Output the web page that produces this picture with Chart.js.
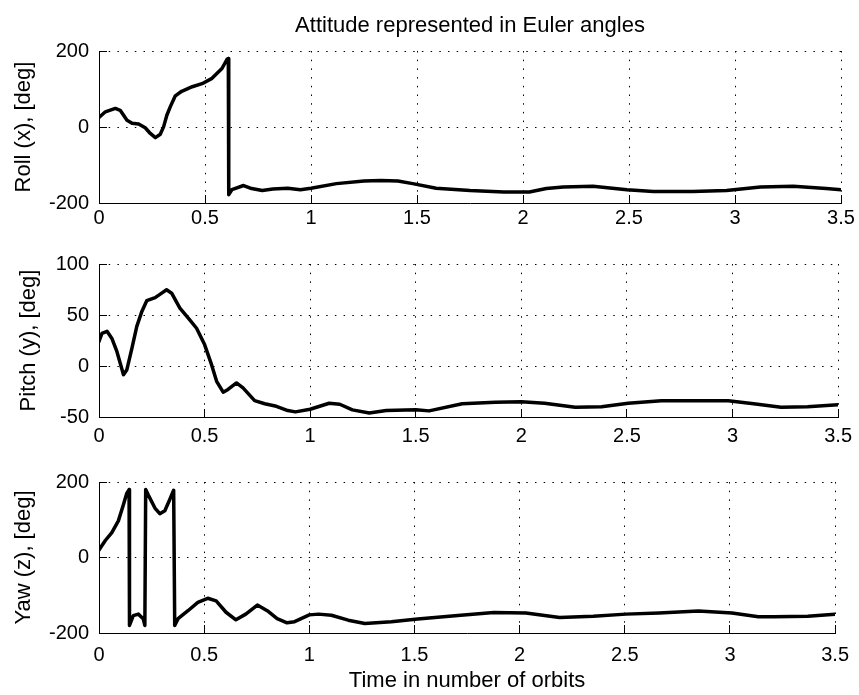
<!DOCTYPE html>
<html>
<head>
<meta charset="utf-8">
<title>Attitude represented in Euler angles</title>
<script src="https://cdn.jsdelivr.net/npm/chart.js@4.4.0/dist/chart.umd.min.js"></script>
<style>
  html, body { margin: 0; padding: 0; background: #fff; }
  #wrap { position: relative; width: 859px; height: 695px; overflow: hidden; }
  canvas { position: absolute; left: 0; }
</style>
</head>
<body>
<div id="wrap">
  <canvas id="roll" width="859" height="240" style="top:0px"></canvas>
  <canvas id="pitch" width="859" height="220" style="top:240px"></canvas>
  <canvas id="yaw" width="859" height="235" style="top:460px"></canvas>
</div>
<script>
// time axis (number of orbits)
const xTicks = [0, 0.5, 1, 1.5, 2, 2.5, 3, 3.5];
const xTickLabels = ['0', '0.5', '1', '1.5', '2', '2.5', '3', '3.5'];

// Roll (x)
const rollT = [0, 0.03, 0.077, 0.10, 0.132, 0.156, 0.187, 0.218, 0.242, 0.266, 0.289, 0.305, 0.32, 0.336,
  0.36, 0.39, 0.44, 0.486, 0.533, 0.58, 0.604, 0.610, 0.612, 0.627, 0.682, 0.72, 0.77, 0.82, 0.89, 0.95,
  1.0, 1.12, 1.25, 1.33, 1.41, 1.48, 1.59, 1.75, 1.91, 2.03, 2.11, 2.19, 2.33, 2.49, 2.615, 2.80, 2.96,
  3.12, 3.275, 3.43, 3.5];
const rollDeg = [25, 40, 49, 44, 18, 10, 8, -2, -17, -28, -19, 1, 31, 53,
  82, 94, 106, 114, 128, 154, 178, 180, -178, -165, -154, -162, -167, -163, -161, -165,
  -161, -149, -142, -141, -142, -149, -161, -167, -171, -171, -162, -158, -156, -165, -170, -170, -167,
  -158, -156, -162, -165];
const rollTicks = [-200, 0, 200];
const rollTickLabels = ['-200', '0', '200'];

// Pitch (y)
const pitchT = [0, 0.014, 0.038, 0.061, 0.085, 0.116, 0.132, 0.156, 0.179, 0.203, 0.226, 0.266, 0.297, 0.32,
  0.344, 0.383, 0.423, 0.462, 0.50, 0.533, 0.557, 0.588, 0.611, 0.651, 0.682, 0.737, 0.785, 0.84, 0.894,
  0.93, 1.0, 1.09, 1.14, 1.2, 1.28, 1.36, 1.5, 1.563, 1.72, 1.877, 2.0, 2.11, 2.255, 2.38, 2.506, 2.663,
  2.82, 2.98, 3.10, 3.23, 3.355, 3.5];
const pitchDeg = [24, 32, 34, 27, 14, -8.5, -3.6, 17.6, 38.8, 53.5, 64, 67, 71.4, 74.7,
  71.4, 56.8, 47, 37, 21, 1.3, -15, -25.7, -23, -16.6, -21.5, -34, -37, -39.5, -43.7,
  -45, -42.4, -36.5, -37.5, -43, -46, -43.7, -43, -44, -37, -35.5, -35, -36.5, -40.5, -40, -36.5, -34,
  -34, -34, -37, -40.5, -40, -38];
const pitchTicks = [-50, 0, 50, 100];
const pitchTickLabels = ['-50', '0', '50', '100'];

// Yaw (z)
const yawT = [0, 0.03, 0.061, 0.092, 0.116, 0.132, 0.143, 0.145, 0.163, 0.187, 0.21, 0.218, 0.222, 0.234,
  0.266, 0.289, 0.313, 0.336, 0.355, 0.36, 0.376, 0.423, 0.47, 0.517, 0.557, 0.604, 0.651, 0.698, 0.753,
  0.80, 0.847, 0.894, 0.93, 1.0, 1.044, 1.105, 1.185, 1.264, 1.39, 1.515, 1.72, 1.877, 2.03, 2.19, 2.35,
  2.506, 2.663, 2.85, 3.01, 3.135, 3.21, 3.37, 3.5];
const yawDeg = [20, 45, 66, 97, 140, 170, 180, -180, -154, -150, -162, -180, 180, 166,
  131, 116, 124, 153, 178, -180, -162, -141, -119, -108, -115, -145, -165, -150, -126,
  -141, -162, -173, -170, -152, -150, -153, -166, -175, -170, -163, -153, -146, -147, -159, -155.5,
  -150, -147, -142, -147, -157, -157, -155.5, -150];
const yawTicks = [-200, 0, 200];
const yawTickLabels = ['-200', '0', '200'];

const FONT = "'Liberation Sans', Arial, Helvetica, sans-serif";
Chart.defaults.font.family = FONT;
Chart.defaults.color = '#000';

// matlab style ticks pointing into the axes
const innerTicks = {
  id: 'innerTicks',
  beforeDatasetsDraw(chart) {
    const { ctx, chartArea: a, scales: { x, y } } = chart;
    ctx.save();
    ctx.strokeStyle = '#000';
    ctx.lineWidth = 1;
    ctx.beginPath();
    x.ticks.forEach(t => {
      const px = Math.round(x.getPixelForValue(t.value) - 0.5) + 0.5;
      ctx.moveTo(px, a.bottom);
      ctx.lineTo(px, a.bottom - 8);
    });
    y.ticks.forEach(t => {
      const py = Math.round(y.getPixelForValue(t.value) - 0.5) + 0.5;
      ctx.moveTo(a.left, py);
      ctx.lineTo(a.left + 8, py);
    });
    ctx.stroke();
    ctx.restore();
  }
};

function makePanel(id, t, deg, yTicks, yLabels, cfg) {
  const points = t.map((v, i) => ({ x: v, y: deg[i] }));
  return new Chart(document.getElementById(id), {
    type: 'line',
    data: {
      datasets: [{
        data: points,
        borderColor: '#000',
        borderWidth: 3.5,
        pointRadius: 0,
        tension: 0,
        borderJoinStyle: 'round',
        borderCapStyle: 'round'
      }]
    },
    options: {
      responsive: false,
      animation: false,
      devicePixelRatio: 1,
      events: [],
      layout: { padding: { top: cfg.padTop, right: 18, bottom: 0, left: 0 } },
      plugins: {
        legend: { display: false },
        tooltip: { enabled: false },
        title: cfg.title ? {
          display: true,
          text: cfg.title,
          fullSize: false,
          color: '#000',
          font: { size: 22, weight: 'normal' },
          padding: { top: 12.3, bottom: 12.3 }
        } : { display: false }
      },
      scales: {
        x: {
          type: 'linear',
          min: 0,
          max: 3.5,
          afterBuildTicks: s => { s.ticks = xTicks.map(v => ({ value: v })); },
          afterFit: s => { s.height = cfg.xHeight; },
          ticks: {
            callback: (v, i) => xTickLabels[i],
            padding: cfg.xPad,
            font: { size: 20 },
            maxRotation: 0,
            autoSkip: false
          },
          grid: { color: '#000', lineWidth: 1, drawTicks: false },
          border: { display: true, color: '#000', width: 1, dash: [1.5, 7.2] },
          title: cfg.xTitle ? {
            display: true,
            text: cfg.xTitle,
            font: { size: 22 },
            padding: { top: 0, bottom: 0.5 }
          } : { display: false }
        },
        y: {
          type: 'linear',
          min: yTicks[0],
          max: yTicks[yTicks.length - 1],
          afterBuildTicks: s => { s.ticks = yTicks.map(v => ({ value: v })); },
          afterFit: s => { s.width = 99; },
          ticks: {
            callback: (v, i) => yLabels[i],
            padding: 10,
            font: { size: 20 }
          },
          grid: { color: '#000', lineWidth: 1, drawTicks: false },
          border: { display: true, color: '#000', width: 1, dash: [1.5, 7.2] },
          title: {
            display: true,
            text: cfg.yTitle,
            font: { size: 22 },
            padding: { top: cfg.yTitlePad, bottom: 0 }
          }
        }
      }
    },
    plugins: [innerTicks]
  });
}

makePanel('roll', rollT, rollDeg, rollTicks, rollTickLabels, {
  title: 'Attitude represented in Euler angles',
  yTitle: 'Roll (x), [deg]', yTitlePad: 11,
  padTop: 0, xHeight: 37, xPad: 3
});
makePanel('pitch', pitchT, pitchDeg, pitchTicks, pitchTickLabels, {
  yTitle: 'Pitch (y), [deg]', yTitlePad: 16,
  padTop: 24, xHeight: 43, xPad: 7
});
makePanel('yaw', yawT, yawDeg, yawTicks, yawTickLabels, {
  yTitle: 'Yaw (z), [deg]', yTitlePad: 11,
  xTitle: 'Time in number of orbits',
  padTop: 19, xHeight: 62, xPad: 10
});
</script>
</body>
</html>
